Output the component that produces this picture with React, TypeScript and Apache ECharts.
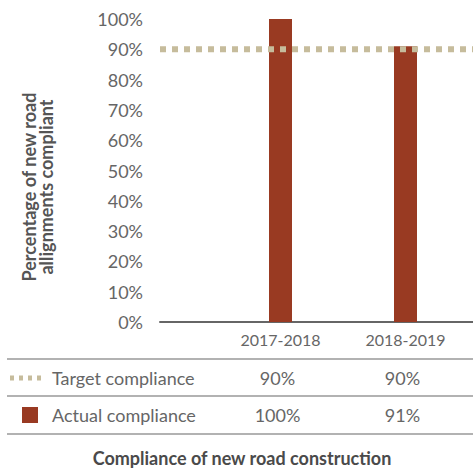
import React, { useEffect, useRef } from "react";
import * as echarts from "echarts";

const categories = ["2017-2018", "2018-2019"];
const actualValues = [100, 91];
const targetValues = [90, 90];
const yTicks = [0, 10, 20, 30, 40, 50, 60, 70, 80, 90, 100];
const seriesNames = ["Target compliance", "Actual compliance"];
const yTitle = "Percentage of new road\nallignments compliant";
const chartTitle = "Compliance of new road construction";

const FONT = "Lato, 'Open Sans', sans-serif";
const BAR_COLOR = "#993a22";
const TARGET_COLOR = "#c6bc9c";
const TEXT_COLOR = "#666666";

export default function App() {
  const ref = useRef<HTMLDivElement>(null);
  useEffect(() => {
    if (!ref.current) return;
    const chart = echarts.init(ref.current, null, { renderer: "svg" });
    const barCats = ["", ...categories];
    const option: any = {
      animation: false,
      textStyle: { fontFamily: FONT },
      grid: [
        { left: 160, right: 0, top: 19, bottom: 147 },
        { left: 93, right: 5, top: 19, bottom: 147 },
      ],
      xAxis: [
        {
          type: "value",
          gridIndex: 0,
          min: 0,
          max: 1,
          axisLine: { show: true, onZero: false, lineStyle: { color: "#666666", width: 2 } },
          axisTick: { show: false },
          axisLabel: { show: false },
          splitLine: { show: false },
        },
        {
          type: "category",
          gridIndex: 1,
          data: barCats,
          axisLine: { show: false },
          axisTick: { show: false },
          axisLabel: { color: TEXT_COLOR, fontSize: 16, fontFamily: FONT, margin: 9 },
        },
      ],
      yAxis: [
        {
          type: "value",
          gridIndex: 0,
          min: yTicks[0],
          max: yTicks[yTicks.length - 1],
          interval: 10,
          axisLine: { show: false },
          axisTick: { show: false },
          splitLine: { show: false },
          axisLabel: { formatter: "{value}%", color: TEXT_COLOR, fontSize: 18, fontFamily: FONT, margin: 17 },
        },
        {
          type: "value",
          gridIndex: 1,
          min: 0,
          max: 100,
          show: false,
          splitLine: { show: false },
        },
      ],
      series: [
        {
          name: seriesNames[0],
          type: "line",
          xAxisIndex: 0,
          yAxisIndex: 0,
          data: [
            [0, targetValues[0]],
            [1, targetValues[1]],
          ],
          symbol: "none",
          lineStyle: { color: TARGET_COLOR, width: 6, type: [6, 6], cap: "butt" },
          z: 5,
        },
        {
          name: seriesNames[1],
          type: "bar",
          xAxisIndex: 1,
          yAxisIndex: 1,
          data: [null, ...actualValues],
          barWidth: 23,
          itemStyle: { color: BAR_COLOR },
          z: 2,
        },
      ],
    };
    chart.setOption(option);

    const colX = categories.map((c) => chart.convertToPixel({ xAxisIndex: 1 }, c) as number);
    const rowY = [378, 415];
    const lineYs = [359, 396, 434];
    const graphics: any[] = [];
    lineYs.forEach((y) => {
      graphics.push({
        type: "line",
        shape: { x1: 7, y1: y, x2: 473, y2: y },
        style: { stroke: "#999999", lineWidth: 1.5 },
      });
    });
    graphics.push({
      type: "line",
      shape: { x1: 10, y1: rowY[0], x2: 42, y2: rowY[0] },
      style: { stroke: TARGET_COLOR, lineWidth: 5, lineDash: [4, 5] },
    });
    graphics.push({
      type: "rect",
      shape: { x: 22, y: rowY[1] - 8, width: 16, height: 16 },
      style: { fill: BAR_COLOR },
    });
    const rows = [targetValues, actualValues];
    rows.forEach((vals, ri) => {
      graphics.push({
        type: "text",
        x: 52,
        y: rowY[ri],
        style: {
          text: seriesNames[ri],
          fill: TEXT_COLOR,
          font: `18px ${FONT}`,
          textAlign: "left",
          textVerticalAlign: "middle",
        },
      });
      vals.forEach((v, ci) => {
        graphics.push({
          type: "text",
          x: colX[ci] - 3,
          y: rowY[ri],
          style: {
            text: `${v}%`,
            fill: TEXT_COLOR,
            font: `18px ${FONT}`,
            textAlign: "center",
            textVerticalAlign: "middle",
          },
        });
      });
    });
    graphics.push({
      type: "text",
      x: 37,
      y: 187,
      rotation: Math.PI / 2,
      style: {
        text: yTitle,
        fill: "#555555",
        font: `bold 18px ${FONT}`,
        textAlign: "center",
        textVerticalAlign: "middle",
        lineHeight: 17,
      },
    });
    graphics.push({
      type: "text",
      x: 242,
      y: 458,
      style: {
        text: chartTitle,
        fill: "#4a4a4a",
        font: `bold 18px ${FONT}`,
        textAlign: "center",
        textVerticalAlign: "middle",
      },
    });
    chart.setOption({ graphic: graphics });

    return () => chart.dispose();
  }, []);
  return (
    <div
      ref={ref}
      style={{ position: "fixed", left: 0, top: 0, width: 473, height: 469, background: "#ffffff" }}
    />
  );
}
